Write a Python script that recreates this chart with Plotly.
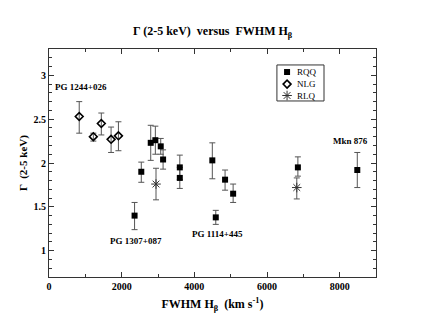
import plotly.graph_objects as go

# RQQ (filled squares)
rqq_x = [2355, 2540, 2800, 2927, 3075, 3140, 3600, 3600, 4495, 4590, 4846, 5068, 6850, 8485]
rqq_y = [1.40, 1.90, 2.23, 2.26, 2.19, 2.04, 1.95, 1.83, 2.03, 1.38, 1.81, 1.65, 1.95, 1.92]
rqq_ep = [0.15, 0.11, 0.20, 0.16, 0.09, 0.11, 0.14, 0.12, 0.20, 0.08, 0.11, 0.11, 0.12, 0.20]
rqq_em = [0.16, 0.12, 0.20, 0.16, 0.09, 0.11, 0.14, 0.12, 0.21, 0.08, 0.12, 0.10, 0.10, 0.20]

# NLG (open diamonds)
nlg_x = [832, 1220, 1440, 1709, 1911]
nlg_y = [2.53, 2.30, 2.45, 2.27, 2.31]
nlg_ep = [0.17, 0.04, 0.12, 0.14, 0.16]
nlg_em = [0.19, 0.05, 0.13, 0.15, 0.17]

# RLQ (asterisks)
rlq_x = [2945, 6820]
rlq_y = [1.76, 1.72]
rlq_ep = [0.18, 0.11]
rlq_em = [0.18, 0.13]

# source labels
lab_text = ['PG 1244+026', 'PG 1307+087', 'PG 1114+445', 'Mkn 876']
lab_x = [870, 2390, 4640, 8300]
lab_y = [2.87, 1.105, 1.19, 2.25]

# legend entries (drawn by hand so rows stay tight)
leg_names = ['RQQ', 'NLG', 'RLQ']
leg_rows = [0.899, 0.846, 0.796]

FONT = "Liberation Serif"
ERR = '#555555'
LINE = '#333333'

styles = {
    'RQQ': dict(symbol='square', size=6, color='black'),
    'NLG': dict(symbol='diamond-open', size=6, color='black', line=dict(width=1.6)),
    'RLQ': dict(symbol='asterisk-open', size=8, color=LINE, line=dict(width=1)),
}


def err(plus, minus):
    return dict(type='data', array=plus, arrayminus=minus, symmetric=False,
                color=ERR, thickness=1, width=3)


fig = go.Figure()
for name, xs, ys, ep, em in [('RQQ', rqq_x, rqq_y, rqq_ep, rqq_em),
                             ('NLG', nlg_x, nlg_y, nlg_ep, nlg_em),
                             ('RLQ', rlq_x, rlq_y, rlq_ep, rlq_em)]:
    fig.add_trace(go.Scatter(name=name, x=xs, y=ys, mode='markers',
                             marker=styles[name], error_y=err(ep, em),
                             showlegend=False))

# legend markers on an overlay axis spanning the plot area
for name, ry in zip(leg_names, leg_rows):
    fig.add_trace(go.Scatter(x=[0.728], y=[ry], mode='markers', marker=styles[name],
                             xaxis='x2', yaxis='y2', showlegend=False, hoverinfo='skip'))
    fig.add_annotation(xref='paper', yref='paper', x=0.752, y=ry, text=name,
                       xanchor='left', yanchor='middle', showarrow=False,
                       font=dict(family=FONT, size=9, color='black'))
fig.add_shape(type='rect', xref='paper', yref='paper', x0=0.697, x1=0.841,
              y0=0.772, y1=0.930, line=dict(color=LINE, width=1), fillcolor='rgba(0,0,0,0)')

for t, x, y in zip(lab_text, lab_x, lab_y):
    fig.add_annotation(x=x, y=y, text=t, showarrow=False,
                       font=dict(family=FONT, size=9, color='black', weight='bold'))

fig.add_annotation(xref='paper', yref='paper', x=0.5, y=1.075,
                   text='Γ (2-5 keV)  versus  FWHM H<sub>β</sub>', showarrow=False,
                   xanchor='center', yanchor='middle',
                   font=dict(family=FONT, size=12, color='black', weight='bold'))

axis = dict(showline=True, linecolor=LINE, linewidth=1.2, mirror='ticks',
            ticks='inside', ticklen=5, tickcolor=LINE, showgrid=False, zeroline=False,
            automargin=False,
            tickfont=dict(family=FONT, size=10, color='black', weight='bold'))

fig.update_xaxes(range=[0, 9000], dtick=2000, tick0=0,
                 minor=dict(dtick=1000, ticks='inside', ticklen=3, tickcolor=LINE),
                 title=dict(text='FWHM H<sub>β</sub>  (km s<sup>-1</sup>)',
                            font=dict(family=FONT, size=12, color='black', weight='bold'),
                            standoff=8),
                 **axis)
fig.update_yaxes(range=[0.7, 3.3], dtick=0.5, tick0=1,
                 minor=dict(dtick=0.1, ticks='inside', ticklen=3, tickcolor=LINE),
                 title=dict(text='Γ  (2-5 keV)',
                            font=dict(family=FONT, size=11, color='black', weight='bold'),
                            standoff=3),
                 **axis)

# the page body adds an 8px margin, so the figure is 8px smaller than the window
fig.update_layout(
    width=415, height=319,
    margin=dict(l=41, r=47, t=41, b=50, autoexpand=False),
    paper_bgcolor='white', plot_bgcolor='white',
    xaxis2=dict(overlaying='x', range=[0, 1], visible=False, fixedrange=True),
    yaxis2=dict(overlaying='y', range=[0, 1], visible=False, fixedrange=True),
    showlegend=False,
)

fig.write_html('out.html')
